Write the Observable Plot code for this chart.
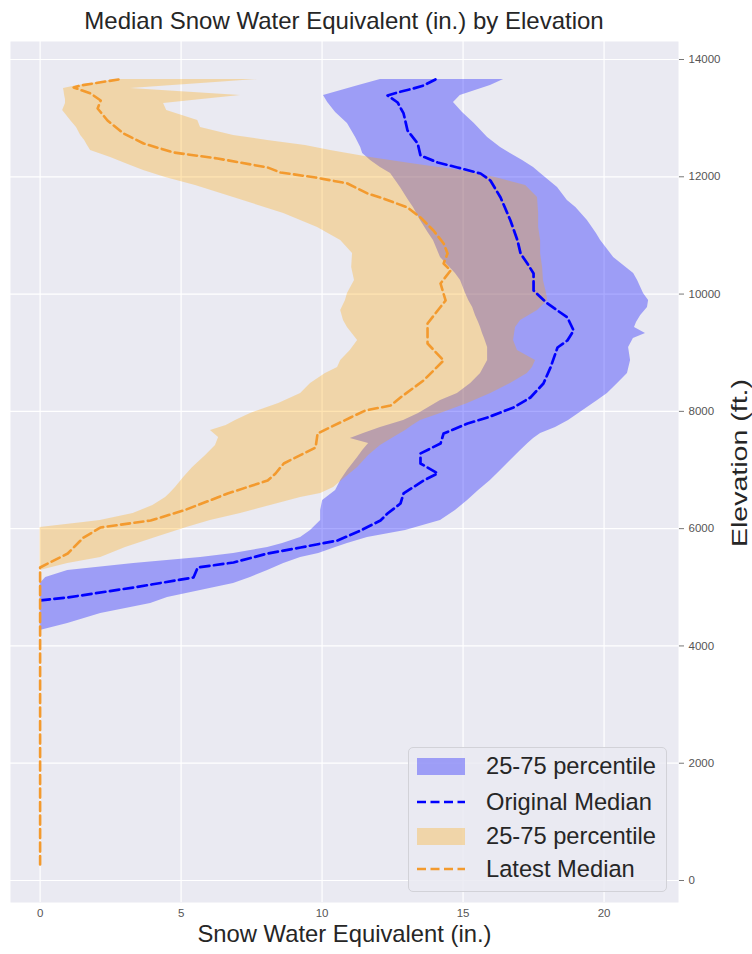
<!DOCTYPE html>
<html>
<head>
<meta charset="utf-8">
<script src="https://cdn.jsdelivr.net/npm/d3@7"></script>
<script src="https://cdn.jsdelivr.net/npm/@observablehq/plot@0.6"></script>
<style>
  html, body { margin: 0; padding: 0; background: #ffffff; }
  #wrap { position: relative; width: 752px; height: 954px; font-family: "Liberation Sans", Arial, sans-serif; }
  #title { position: absolute; left: 0; width: 688px; top: 7px; text-align: center; font-size: 24px; line-height: 28px; color: #262626; }
  #legend { position: absolute; left: 408px; top: 747px; width: 259px; height: 145px; box-sizing: border-box;
            background: rgba(234,234,242,0.85); border: 1px solid #d2d2d8; border-radius: 5px; }
  .row { position: absolute; left: 8px; height: 30px; display: flex; align-items: center; }
  .row span { margin-left: 21px; font-size: 23.7px; color: #262626; white-space: nowrap; }
</style>
</head>
<body>
<div id="wrap">
  <div id="title"></div>
  <div id="chart"></div>
  <div id="legend"></div>
</div>
<script>
// ---- data ----
const titleText = "Median Snow Water Equivalent (in.) by Elevation";
const xLabel = "Snow Water Equivalent (in.)";
const yLabel = "Elevation (ft.)";
const xTicks = [0, 5, 10, 15, 20];
const yTicks = [0, 2000, 4000, 6000, 8000, 10000, 12000, 14000];

// Original 25-75 percentile band
const blueElev = [13660,13557,13387,13267,13097,12909,12670,12500,12398,12278,12159,12056,11818,11596,11477,11255,11033,10914,10624,10351,10232,10010,9891,9771,9635,9516,9430,9328,9243,9089,8868,8646,8475,8305,8185,8066,7964,7844,7725,7623,7537,7452,7333,7213,6992,6821,6651,6480,6310,6139,5969,5849,5747,5679,5576,5508,5406,5286,5167,5065,4945,4826,4724,4553,4383,4263];
const blueLow  = [12.07,11.3,10.05,10.2,10.48,10.9,11.19,11.37,11.44,11.72,12.07,12.43,12.78,13.07,13.24,13.49,13.78,13.95,14.2,14.73,14.91,15.09,15.2,15.34,15.44,15.55,15.62,15.69,15.76,15.87,15.87,15.62,15.27,14.8,14.2,13.78,13.42,12.89,12.07,11.47,11.0,11.65,11.44,11.26,10.9,10.66,10.48,10.02,9.95,9.95,9.59,9.24,8.6,8.07,6.86,5.69,3.32,0.98,0.2,0,0,0,0,0,0,0];
const blueHigh = [16.44,15.97,14.9,14.66,14.98,15.4,15.87,16.33,16.68,17.11,17.5,17.75,18.35,18.7,19.0,19.41,19.73,19.88,20.34,21.05,21.19,21.4,21.58,21.54,21.3,21.15,21.08,21.47,21.04,20.87,20.94,20.83,20.48,20.12,19.77,19.41,19.1,18.74,18.28,17.75,17.5,17.3,17.04,16.79,16.33,15.97,15.55,15.16,14.73,14.2,12.96,11.61,10.9,10.48,9.88,9.24,8.64,8.07,7.46,6.86,5.69,4.52,3.92,2.15,0.98,0];

// Latest 25-75 percentile band
const orangeElev = [13660,13608,13557,13506,13455,13387,13318,13250,13131,12960,12841,12704,12619,12534,12449,12329,12227,12108,11988,11852,11647,11374,11136,10914,10692,10453,10232,10010,9891,9720,9550,9430,9209,9038,8868,8748,8646,8475,8305,8134,7964,7844,7759,7674,7554,7418,7248,7043,6872,6702,6600,6531,6395,6258,6139,6105,6020,5849,5679,5508,5406,5286];
const orangeLow  = [2.75,2.04,1.33,0.83,0.85,0.87,0.9,0.9,0.8,1.08,1.29,1.44,1.58,1.68,1.79,2.5,3.03,3.67,4.45,5.51,6.86,8.64,9.84,10.66,11.08,11.05,11.15,10.9,10.83,10.66,10.76,10.9,11.26,11.0,10.66,10.55,10.12,9.59,9.24,8.46,7.46,6.93,6.6,6.04,6.33,6.22,5.87,5.41,5.09,4.8,4.6,4.45,4.0,3.3,2.13,1.54,0,0,0,0,0,0];
const orangeHigh = [7.71,6.22,4.7,3.21,4.88,7.11,5.73,4.38,4.49,5.59,5.69,6.86,8.07,9.41,10.3,11.72,13.14,14.91,16.15,17.22,17.64,17.68,17.68,17.75,17.75,17.82,17.85,17.96,18.0,17.64,17.04,16.86,16.79,16.93,17.57,17.46,17.28,16.68,15.98,15.16,14.2,13.49,13.21,12.96,12.54,12.07,11.65,11.26,10.83,10.41,9.95,9.24,8.17,7.11,6.04,5.8,5.2,4.1,3.03,2.15,0.98,0];

// Original median
const origElev   = [13660,13557,13506,13438,13387,13267,13080,12790,12568,12363,12244,12159,12056,11937,11647,11255,10914,10692,10522,10351,10061,9840,9601,9379,9209,9089,8748,8475,8237,8066,7896,7793,7623,7452,7282,7111,6941,6821,6600,6429,6258,6139,5969,5798,5679,5576,5423,5338,5167,4997,4826,4775];
const origMedian = [14.02,13.6,13.24,12.68,12.32,12.68,12.89,13.03,13.39,13.49,14.1,14.8,15.62,15.97,16.33,16.68,16.93,17.04,17.28,17.5,17.5,17.99,18.7,18.92,18.7,18.35,18.1,17.85,17.39,16.79,15.87,15.16,14.31,14.2,13.49,13.49,14.1,13.6,12.89,12.78,12.32,12.07,11.37,10.55,9.24,8.07,6.86,5.59,5.44,3.32,0.98,0];

// Latest median
const latestElev   = [13660,13557,13523,13421,13301,13165,12960,12739,12568,12415,12312,12159,12073,11988,11886,11716,11647,11477,11306,11084,10863,10692,10522,10402,10181,9891,9720,9499,9157,8868,8527,8237,8100,8015,7896,7623,7384,7111,6941,6821,6600,6531,6310,6139,6020,5849,5576,5338,273];
const latestMedian = [2.78,1.44,1.19,1.79,2.15,2.04,2.39,2.96,3.67,4.73,6.29,8.07,8.53,9.77,10.9,11.61,12.07,13.03,13.49,13.95,14.31,14.45,14.31,14.56,14.2,14.38,14.1,13.74,13.74,14.31,13.6,12.78,12.43,11.54,11.01,9.84,9.77,8.64,8.35,8.07,6.65,6.29,5.09,3.92,2.15,1.54,0.98,0,0];

const legendLabels = ["25-75 percentile", "Original Median", "25-75 percentile", "Latest Median"];
const legendKinds  = ["band", "line", "band", "line"];

// ---- styles ----
const blueFill = "#0000ff", blueFillOpacity = 0.33;
const orangeFill = "#ffa500", orangeFillOpacity = 0.3;
const blueLine = "#0000ff", orangeLine = "#f39a2e";
const legendColors = [blueFill, blueLine, orangeFill, orangeLine];
const legendOpacity = [blueFillOpacity, 1, orangeFillOpacity, 1];

// ---- tables ----
const blueRows = blueElev.map((e, i) => ({elev: e, low: blueLow[i], high: blueHigh[i]}));
const orangeRows = orangeElev.map((e, i) => ({elev: e, low: orangeLow[i], high: orangeHigh[i]}));
const origRows = origElev.map((e, i) => ({elev: e, v: origMedian[i]}));
const latestRows = latestElev.map((e, i) => ({elev: e, v: latestMedian[i]}));

const chart = Plot.plot({
  width: 752,
  height: 954,
  marginLeft: 10,
  marginRight: 74,
  marginTop: 41,
  marginBottom: 52,
  style: {fontFamily: "'Liberation Sans', Arial, sans-serif", background: "transparent", overflow: "visible"},
  x: {domain: [-1.05, 22.64], label: null},
  y: {domain: [-375, 14307], label: null},
  marks: [
    Plot.frame({fill: "#eaeaf2", stroke: null}),
    Plot.gridX(xTicks, {stroke: "#ffffff", strokeOpacity: 1, strokeWidth: 1.2}),
    Plot.gridY(yTicks, {stroke: "#ffffff", strokeOpacity: 1, strokeWidth: 1.2}),
    Plot.areaX(blueRows, {y: "elev", x1: "low", x2: "high", fill: blueFill, fillOpacity: blueFillOpacity, curve: "linear"}),
    Plot.areaX(orangeRows, {y: "elev", x1: "low", x2: "high", fill: orangeFill, fillOpacity: orangeFillOpacity, curve: "linear"}),
    Plot.line(origRows, {x: "v", y: "elev", stroke: blueLine, strokeWidth: 2.7, strokeDasharray: "9.5,4.5"}),
    Plot.line(latestRows, {x: "v", y: "elev", stroke: orangeLine, strokeWidth: 2.6, strokeDasharray: "9,4.5"}),
    Plot.axisX(xTicks, {anchor: "bottom", tickSize: 0, tickPadding: 6, fontSize: 11.5, color: "#555", label: null}),
    Plot.axisY(yTicks, {anchor: "right", tickSize: 5, tickPadding: 5, fontSize: 11.5, color: "#555", stroke: "#777", tickFormat: d => String(d), label: null}),
    Plot.text([xLabel], {frameAnchor: "bottom", dy: 39, fontSize: 23.8, fill: "#262626"}),
    Plot.text([yLabel], {frameAnchor: "right", textAnchor: "middle", dx: 61, dy: -9, rotate: -90, fontSize: 22, fill: "#262626"})
  ]
});
document.getElementById("chart").appendChild(chart);
document.getElementById("title").textContent = titleText;

// stretch the rotated axis label to the reference length
d3.select(chart).selectAll("text").filter(function() { return this.textContent === yLabel; })
  .attr("textLength", 168).attr("lengthAdjust", "spacingAndGlyphs");

// ---- legend ----
const legend = d3.select("#legend");
const rowTops = [3, 39, 73, 106];
legendLabels.forEach((lab, i) => {
  const row = legend.append("div").attr("class", "row").style("top", rowTops[i] + "px");
  const svg = row.append("svg").attr("width", 48).attr("height", 20);
  if (legendKinds[i] === "band") {
    svg.append("rect").attr("x", 0).attr("y", 2).attr("width", 48).attr("height", 17)
      .attr("fill", legendColors[i]).attr("fill-opacity", legendOpacity[i]);
  } else {
    svg.append("line").attr("x1", 0).attr("x2", 48).attr("y1", 10).attr("y2", 10)
      .attr("stroke", legendColors[i]).attr("stroke-width", 2.5).attr("stroke-dasharray", "9,4.5");
  }
  row.append("span").text(lab);
});
</script>
</body>
</html>
